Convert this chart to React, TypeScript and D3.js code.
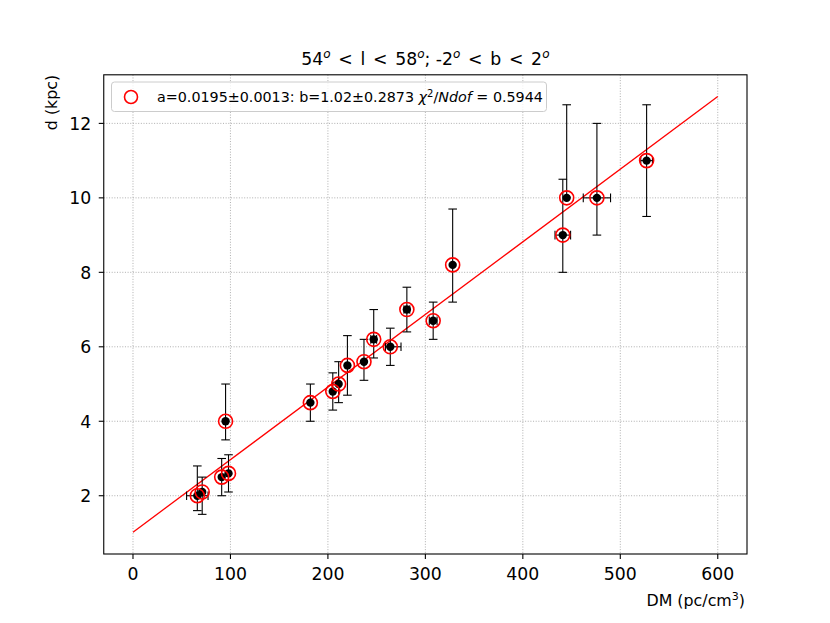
import React from "react";
import * as d3 from "d3";

const dm = [66, 71, 91, 98, 95, 182, 205, 211, 220, 237, 247, 264, 281, 308, 328, 441, 445, 476, 527];
const dist = [2.0, 2.1, 2.5, 2.6, 4.0, 4.5, 4.8, 5.0, 5.5, 5.6, 6.2, 6.0, 7.0, 6.7, 8.2, 9.0, 10.0, 10.0, 11.0];
const distErrLow = [0.4, 0.6, 0.5, 0.5, 0.5, 0.5, 0.5, 0.5, 0.8, 0.5, 0.5, 0.5, 0.6, 0.5, 1.0, 1.0, 0.0, 1.0, 1.5];
const distErrHigh = [0.8, 0.4, 0.5, 0.5, 1.0, 0.5, 0.5, 0.6, 0.8, 0.6, 0.8, 0.5, 0.6, 0.5, 1.5, 1.5, 2.5, 2.0, 1.5];
const dmErrLow = [11, 0, 0, 0, 0, 0, 0, 0, 0, 0, 3, 5, 3, 4, 0, 8, 0, 14, 6];
const dmErrHigh = [11, 0, 0, 0, 0, 0, 0, 0, 0, 0, 3, 11, 3, 4, 0, 8, 0, 14, 6];
const xTicks = [0, 100, 200, 300, 400, 500, 600];
const yTicks = [2, 4, 6, 8, 10, 12];
const fitA = 0.0195;
const fitB = 1.02;
const fitRange = [0, 600];

const W = 830, H = 623;
const L = 103.75, R = 747, T = 74.8, B = 554;
const FONT = "DejaVu Sans, sans-serif";

export default function App() {
  const x = d3.scaleLinear().domain([-30, 630]).range([L, R]);
  const y = d3.scaleLinear().domain([0.435, 13.305]).range([B, T]);
  const cap = 4.3;
  const line = d3.line<number>().x((v) => x(v)).y((v) => y(fitA * v + fitB));
  const pts = dm.map((v, i) => ({
    dm: v, d: dist[i], dl: distErrLow[i], dh: distErrHigh[i], xl: dmErrLow[i], xh: dmErrHigh[i],
  }));
  const sup = (s: string, fs: number, italic = false) => (
    <tspan baselineShift="super" fontSize={fs} fontStyle={italic ? "italic" : "normal"}>{s}</tspan>
  );
  const n = (s: string, dx = 0) => <tspan baselineShift="0" dx={dx}>{s}</tspan>;
  const g = 2.2;
  return (
    <svg width={W} height={H} style={{ position: "absolute", left: 0, top: 0, background: "#fff" }} fontFamily={FONT}>
      <rect x={0} y={0} width={W} height={H} fill="#fff" />
      {/* grid */}
      <g stroke="#9a9a9a" strokeWidth={0.8} strokeDasharray="1,1.65">
        {xTicks.map((t) => (
          <line key={"gx" + t} x1={x(t)} x2={x(t)} y1={T} y2={B} />
        ))}
        {yTicks.map((t) => (
          <line key={"gy" + t} x1={L} x2={R} y1={y(t)} y2={y(t)} />
        ))}
      </g>
      {/* fit line */}
      <path d={line(fitRange) || ""} stroke="#ff0000" strokeWidth={1.3} fill="none" />
      {/* error bars */}
      <g stroke="#000" strokeWidth={1.1}>
        {pts.map((p, i) => (
          <g key={"e" + i}>
            <line x1={x(p.dm)} x2={x(p.dm)} y1={y(p.d + p.dh)} y2={y(p.d - p.dl)} />
            {p.dh > 0 && <line x1={x(p.dm) - cap} x2={x(p.dm) + cap} y1={y(p.d + p.dh)} y2={y(p.d + p.dh)} />}
            {p.dl > 0 && <line x1={x(p.dm) - cap} x2={x(p.dm) + cap} y1={y(p.d - p.dl)} y2={y(p.d - p.dl)} />}
            {(p.xl > 0 || p.xh > 0) && (
              <>
                <line x1={x(p.dm - p.xl)} x2={x(p.dm + p.xh)} y1={y(p.d)} y2={y(p.d)} />
                <line x1={x(p.dm - p.xl)} x2={x(p.dm - p.xl)} y1={y(p.d) - cap} y2={y(p.d) + cap} />
                <line x1={x(p.dm + p.xh)} x2={x(p.dm + p.xh)} y1={y(p.d) - cap} y2={y(p.d) + cap} />
              </>
            )}
          </g>
        ))}
      </g>
      {/* black points */}
      {pts.map((p, i) => (
        <circle key={"p" + i} cx={x(p.dm)} cy={y(p.d)} r={4.2} fill="#000" />
      ))}
      {/* red open circles */}
      {pts.map((p, i) => (
        <circle key={"c" + i} cx={x(p.dm)} cy={y(p.d)} r={7} fill="none" stroke="#ff0000" strokeWidth={1.6} />
      ))}
      {/* axes frame */}
      <rect x={L} y={T} width={R - L} height={B - T} fill="none" stroke="#000" strokeWidth={1.1} />
      {/* x ticks */}
      {xTicks.map((t) => (
        <g key={"xt" + t}>
          <line x1={x(t)} x2={x(t)} y1={B} y2={B + 5} stroke="#000" strokeWidth={1.1} />
          <text x={x(t)} y={B + 26} textAnchor="middle" fontSize={17.3}>{t}</text>
        </g>
      ))}
      {yTicks.map((t) => (
        <g key={"yt" + t}>
          <line x1={L - 5} x2={L} y1={y(t)} y2={y(t)} stroke="#000" strokeWidth={1.1} />
          <text x={L - 12.5} y={y(t) + 6.3} textAnchor="end" fontSize={17.3}>{t}</text>
        </g>
      ))}
      {/* axis labels */}
      <text x={R - 2} y={606} textAnchor="end" fontSize={15.85}>
        DM (pc/cm{sup("3", 11)})
      </text>
      <text transform={`translate(57,${T}) rotate(-90)`} textAnchor="end" fontSize={15.85}>d (kpc)</text>
      {/* title */}
      <text x={(L + R) / 2} y={65} textAnchor="middle" fontSize={17.3} xmlSpace="preserve">
        54{sup("o", 12, true)}
        {n(" <", g)}{n(" l", g)}{n(" <", g)}{n(" 58", g)}{sup("o", 12, true)}
        {n("; -2")}{sup("o", 12, true)}
        {n(" <", g)}{n(" b", g)}{n(" <", g)}{n(" 2", g)}{sup("o", 12, true)}
      </text>
      {/* legend */}
      <rect x={111.5} y={82} width={435} height={29.5} rx={3} fill="#fff" fillOpacity={0.8} stroke="#cccccc" strokeWidth={1} />
      <circle cx={131} cy={97} r={6.5} fill="none" stroke="#ff0000" strokeWidth={1.6} />
      <text x={157} y={102} fontSize={14.3}>
        a=0.0195±0.0013: b=1.02±0.2873 <tspan fontStyle="italic">χ</tspan>{sup("2", 10)}{n("/")}<tspan fontStyle="italic" baselineShift="0">Ndof</tspan>{n(" = 0.5944")}
      </text>
    </svg>
  );
}
